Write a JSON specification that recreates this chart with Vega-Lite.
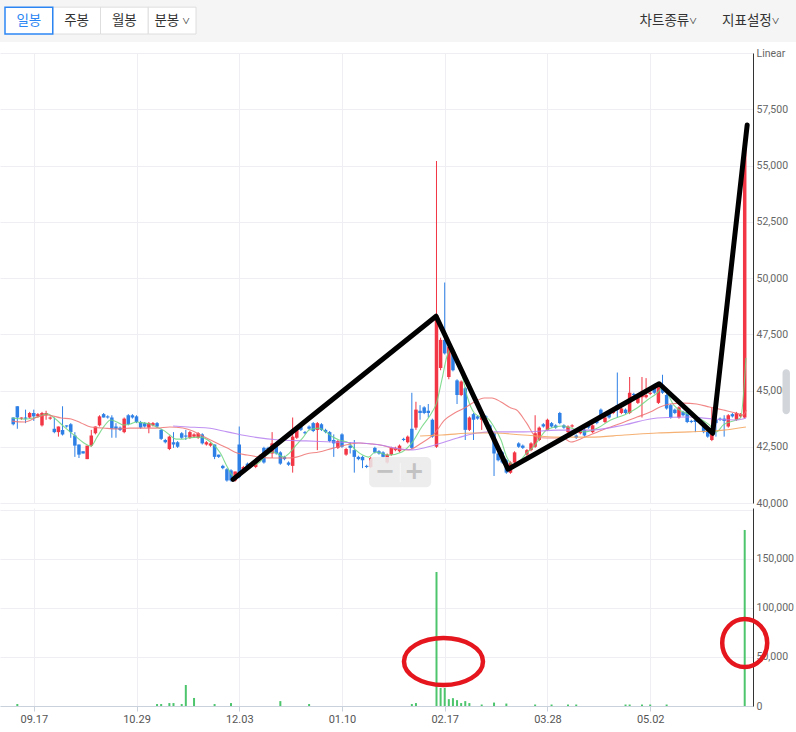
{
  "$schema": "https://vega.github.io/schema/vega-lite/v6.json",
  "padding": 0,
  "background": "white",
  "config": {
    "view": {"stroke": null},
    "font": "Roboto",
    "axis": {"labelFont": "Roboto", "labelFontSize": 11, "labelColor": "#666666", "gridColor": "#efeff3", "gridWidth": 1, "title": null}
  },
  "datasets": {
    "candles": [
      {"i":2,"o":43800,"h":43800,"l":43450,"c":43500},{"i":3,"o":44300,"h":44300,"l":43300,"c":43800},{"i":4,"o":43750,"h":43800,"l":43700,"c":43800},{"i":5,"o":43800,"h":44150,"l":43550,"c":43750},{"i":6,"o":43800,"h":44050,"l":43750,"c":44000},{"i":7,"o":44000,"h":44150,"l":43650,"c":43850},{"i":8,"o":43850,"h":44000,"l":43800,"c":43950},{"i":9,"o":43450,"h":44050,"l":43400,"c":44000},{"i":10,"o":43900,"h":44100,"l":43700,"c":44000},{"i":11,"o":43750,"h":43850,"l":43700,"c":43800},
      {"i":12,"o":43300,"h":43800,"l":43100,"c":43150},{"i":13,"o":43150,"h":43400,"l":42950,"c":43400},{"i":14,"o":43250,"h":44300,"l":43000,"c":43050},{"i":15,"o":43450,"h":43450,"l":43350,"c":43400},{"i":16,"o":43500,"h":43550,"l":42900,"c":43150},{"i":17,"o":43000,"h":43150,"l":42050,"c":42550},{"i":18,"o":42600,"h":42600,"l":42000,"c":42150},{"i":19,"o":42300,"h":42300,"l":42200,"c":42200},{"i":20,"o":41950,"h":42550,"l":41950,"c":42550},{"i":21,"o":42550,"h":43250,"l":42500,"c":43000},
      {"i":22,"o":43100,"h":43400,"l":43050,"c":43400},{"i":23,"o":43450,"h":43900,"l":43400,"c":43850},{"i":24,"o":43950,"h":44000,"l":43800,"c":43800},{"i":25,"o":43850,"h":43900,"l":43750,"c":43800},{"i":26,"o":43800,"h":43900,"l":42900,"c":43300},{"i":27,"o":43400,"h":43550,"l":42900,"c":43300},{"i":28,"o":43350,"h":43400,"l":43200,"c":43250},{"i":29,"o":43150,"h":43800,"l":43100,"c":43750},{"i":30,"o":43900,"h":43950,"l":43450,"c":43500},{"i":31,"o":43900,"h":43950,"l":43750,"c":43800},
      {"i":32,"o":43850,"h":43900,"l":43550,"c":43600},{"i":33,"o":43600,"h":43650,"l":43300,"c":43350},{"i":34,"o":43550,"h":43600,"l":43350,"c":43400},{"i":35,"o":43350,"h":43600,"l":43100,"c":43550},{"i":36,"o":43450,"h":43600,"l":43400,"c":43550},{"i":37,"o":43550,"h":43600,"l":43350,"c":43400},{"i":38,"o":43250,"h":43300,"l":42800,"c":42850},{"i":39,"o":42800,"h":42850,"l":42650,"c":42700},{"i":40,"o":42400,"h":43000,"l":42350,"c":42950},{"i":41,"o":42700,"h":43150,"l":42450,"c":42600},
      {"i":42,"o":42700,"h":42750,"l":42450,"c":42500},{"i":43,"o":43100,"h":43150,"l":42850,"c":42900},{"i":44,"o":43000,"h":43250,"l":42800,"c":42950},{"i":45,"o":42900,"h":43200,"l":42850,"c":43150},{"i":46,"o":42950,"h":43100,"l":42900,"c":43050},{"i":47,"o":42900,"h":43150,"l":42850,"c":43100},{"i":48,"o":43050,"h":43100,"l":42600,"c":42650},{"i":49,"o":42600,"h":42750,"l":42550,"c":42700},{"i":50,"o":42550,"h":42700,"l":42500,"c":42650},{"i":51,"o":42600,"h":42600,"l":41950,"c":42050},
      {"i":52,"o":42150,"h":42150,"l":42000,"c":42050},{"i":53,"o":41650,"h":41700,"l":41500,"c":41550},{"i":54,"o":41500,"h":41550,"l":40950,"c":41000},{"i":55,"o":41450,"h":41500,"l":40950,"c":41000},{"i":56,"o":41000,"h":41400,"l":40950,"c":41400},{"i":57,"o":42600,"h":43400,"l":41100,"c":41150},{"i":58,"o":41450,"h":41650,"l":41400,"c":41600},{"i":59,"o":41750,"h":41800,"l":41500,"c":41550},{"i":60,"o":41700,"h":41750,"l":41600,"c":41650},{"i":61,"o":41600,"h":41950,"l":41550,"c":41900},
      {"i":62,"o":42000,"h":42150,"l":41950,"c":42100},{"i":63,"o":42450,"h":42500,"l":41750,"c":41800},{"i":64,"o":42450,"h":42500,"l":42350,"c":42400},{"i":65,"o":42200,"h":43150,"l":42000,"c":42650},{"i":66,"o":42600,"h":42650,"l":42150,"c":42200},{"i":67,"o":42250,"h":42300,"l":41700,"c":41750},{"i":68,"o":42050,"h":42100,"l":41900,"c":41950},{"i":69,"o":41800,"h":41850,"l":41650,"c":41700},{"i":70,"o":41650,"h":43800,"l":41350,"c":42950},{"i":71,"o":42900,"h":43400,"l":42850,"c":43350},
      {"i":72,"o":43400,"h":43450,"l":43200,"c":43250},{"i":73,"o":43150,"h":43200,"l":43050,"c":43100},{"i":74,"o":43400,"h":43450,"l":43250,"c":43300},{"i":75,"o":43550,"h":43600,"l":43150,"c":43200},{"i":76,"o":43250,"h":43600,"l":42350,"c":43550},{"i":77,"o":43500,"h":43550,"l":43200,"c":43250},{"i":78,"o":43250,"h":43300,"l":43100,"c":43150},{"i":79,"o":43150,"h":43200,"l":42700,"c":42750},{"i":80,"o":42800,"h":43050,"l":42050,"c":42650},{"i":81,"o":42450,"h":42800,"l":42400,"c":42750},
      {"i":82,"o":43050,"h":43100,"l":42450,"c":42500},{"i":83,"o":42150,"h":42450,"l":42100,"c":42400},{"i":84,"o":42550,"h":42700,"l":42200,"c":42450},{"i":85,"o":42350,"h":42800,"l":41350,"c":42050},{"i":86,"o":42050,"h":42100,"l":41900,"c":41950},{"i":87,"o":42050,"h":42100,"l":41550,"c":41900},{"i":88,"o":41650,"h":41700,"l":41550,"c":41600},{"i":89,"o":41600,"h":42050,"l":41550,"c":42000},{"i":90,"o":42450,"h":42500,"l":42200,"c":42250},{"i":91,"o":42300,"h":42350,"l":42150,"c":42200},
      {"i":92,"o":42250,"h":42300,"l":42000,"c":42050},{"i":93,"o":41800,"h":42200,"l":41750,"c":42150},{"i":94,"o":42150,"h":42500,"l":42100,"c":42450},{"i":95,"o":42350,"h":42500,"l":42300,"c":42450},{"i":96,"o":42300,"h":42600,"l":42250,"c":42550},{"i":97,"o":42850,"h":42900,"l":42750,"c":42800},{"i":98,"o":42700,"h":43000,"l":42650,"c":42950},{"i":99,"o":43300,"h":44900,"l":42400,"c":42450},{"i":100,"o":43350,"h":44500,"l":43250,"c":44150},{"i":101,"o":44100,"h":44350,"l":43700,"c":44000},
      {"i":102,"o":44250,"h":44300,"l":43950,"c":44000},{"i":103,"o":44100,"h":44400,"l":43800,"c":44000},{"i":104,"o":43700,"h":43750,"l":42900,"c":42950},{"i":105,"o":42500,"h":55200,"l":42450,"c":48350},{"i":106,"o":46000,"h":47350,"l":45900,"c":47250},{"i":107,"o":47250,"h":49800,"l":46600,"c":46650},{"i":108,"o":45600,"h":47050,"l":45500,"c":46950},{"i":109,"o":46600,"h":46700,"l":45850,"c":45900},{"i":110,"o":45450,"h":45500,"l":44400,"c":44800},{"i":111,"o":44800,"h":45450,"l":44750,"c":45400},
      {"i":112,"o":45100,"h":45150,"l":42800,"c":43250},{"i":113,"o":43250,"h":43850,"l":43200,"c":43800},{"i":114,"o":43950,"h":44000,"l":42800,"c":43700},{"i":115,"o":43850,"h":43900,"l":43700,"c":43750},{"i":116,"o":43700,"h":44100,"l":43250,"c":44050},{"i":117,"o":43850,"h":43900,"l":43750,"c":43800},{"i":118,"o":43450,"h":43500,"l":43200,"c":43250},{"i":119,"o":43100,"h":43150,"l":41200,"c":42200},{"i":120,"o":42200,"h":42250,"l":41850,"c":41900},{"i":121,"o":42250,"h":42300,"l":41750,"c":41800},
      {"i":122,"o":41900,"h":41950,"l":41300,"c":41350},{"i":123,"o":41350,"h":41850,"l":41300,"c":41800},{"i":124,"o":41800,"h":42300,"l":41750,"c":42250},{"i":125,"o":42650,"h":42700,"l":42450,"c":42500},{"i":126,"o":42550,"h":42600,"l":42400,"c":42450},{"i":127,"o":42150,"h":42400,"l":42100,"c":42350},{"i":128,"o":42350,"h":42700,"l":42300,"c":42650},{"i":129,"o":42500,"h":43900,"l":42450,"c":43100},{"i":130,"o":42800,"h":43400,"l":42750,"c":43350},{"i":131,"o":43500,"h":43550,"l":43350,"c":43400},
      {"i":132,"o":43250,"h":43750,"l":43200,"c":43700},{"i":133,"o":43550,"h":43600,"l":43350,"c":43400},{"i":134,"o":43450,"h":43500,"l":43300,"c":43350},{"i":135,"o":44000,"h":44050,"l":43500,"c":43550},{"i":136,"o":43450,"h":43500,"l":43300,"c":43350},{"i":137,"o":43150,"h":43450,"l":43100,"c":43400},{"i":138,"o":43400,"h":43500,"l":43350,"c":43450},{"i":139,"o":43000,"h":43050,"l":42850,"c":42900},{"i":140,"o":43100,"h":43300,"l":43050,"c":43250},{"i":141,"o":43250,"h":43300,"l":42950,"c":43000},
      {"i":142,"o":43450,"h":43500,"l":43300,"c":43350},{"i":143,"o":43150,"h":43500,"l":43100,"c":43450},{"i":144,"o":43700,"h":43750,"l":43500,"c":43550},{"i":145,"o":44150,"h":44200,"l":43850,"c":43900},{"i":146,"o":43600,"h":43850,"l":43550,"c":43800},{"i":147,"o":44000,"h":44050,"l":43750,"c":43800},{"i":148,"o":44000,"h":44100,"l":43950,"c":44050},{"i":149,"o":44350,"h":45800,"l":43800,"c":44150},{"i":150,"o":44000,"h":44250,"l":43950,"c":44200},{"i":151,"o":44150,"h":44200,"l":43950,"c":44000},
      {"i":152,"o":44000,"h":45600,"l":43950,"c":44900},{"i":153,"o":44850,"h":44900,"l":44750,"c":44800},{"i":154,"o":44450,"h":44750,"l":44400,"c":44700},{"i":155,"o":44700,"h":45600,"l":43800,"c":44950},{"i":156,"o":44700,"h":45550,"l":44650,"c":44800},{"i":157,"o":44850,"h":44950,"l":44800,"c":44900},{"i":158,"o":45250,"h":45300,"l":44850,"c":44900},{"i":159,"o":44450,"h":45200,"l":44400,"c":45150},{"i":160,"o":45250,"h":45700,"l":44850,"c":44900},{"i":161,"o":44800,"h":44850,"l":44150,"c":44200},
      {"i":162,"o":44350,"h":44400,"l":43750,"c":43800},{"i":163,"o":44150,"h":44200,"l":43950,"c":44000},{"i":164,"o":43800,"h":44300,"l":43750,"c":44250},{"i":165,"o":44050,"h":44100,"l":43850,"c":43900},{"i":166,"o":44050,"h":44100,"l":43550,"c":43600},{"i":167,"o":43650,"h":43700,"l":43550,"c":43600},{"i":168,"o":43700,"h":43800,"l":43150,"c":43600},{"i":169,"o":43750,"h":43800,"l":43650,"c":43700},{"i":170,"o":43550,"h":43600,"l":43100,"c":43150},{"i":171,"o":43350,"h":43400,"l":42900,"c":42950},
      {"i":172,"o":42800,"h":44250,"l":42750,"c":43150},{"i":173,"o":43700,"h":44150,"l":42950,"c":43550},{"i":174,"o":43750,"h":43800,"l":43650,"c":43700},{"i":175,"o":43750,"h":43900,"l":42950,"c":43650},{"i":176,"o":43400,"h":43950,"l":43350,"c":43900},{"i":177,"o":43950,"h":44000,"l":43800,"c":43850},{"i":178,"o":43700,"h":44050,"l":43650,"c":44000},{"i":179,"o":43850,"h":44000,"l":43800,"c":43950},{"i":180,"o":43800,"h":56000,"l":43750,"c":55950}
    ],
    "volume": [
      {"i":3,"v":2000},{"i":37,"v":2000},{"i":38,"v":2000},{"i":40,"v":3000},{"i":41,"v":3000},{"i":43,"v":2000},{"i":44,"v":21400},{"i":46,"v":8200},{"i":51,"v":2000},{"i":55,"v":3000},{"i":67,"v":5000},{"i":74,"v":2000},{"i":99,"v":2000},{"i":100,"v":3000},{"i":105,"v":136700},{"i":106,"v":18400},{"i":107,"v":18400},{"i":108,"v":7000},{"i":109,"v":8000},{"i":110,"v":6000},{"i":111,"v":3000},{"i":112,"v":5000},{"i":113,"v":3000},{"i":116,"v":1500},{"i":119,"v":3500},{"i":122,"v":2500},{"i":129,"v":1500},{"i":133,"v":1500},{"i":137,"v":1500},{"i":139,"v":1500},{"i":151,"v":1500},{"i":152,"v":1500},{"i":155,"v":1500},{"i":157,"v":1500},{"i":161,"v":1500},{"i":180,"v":179600}
    ],
    "ma": [
      {"s":"ma5","i":1.7,"p":43780},{"s":"ma5","i":4.8,"p":43730},{"s":"ma5","i":7.9,"p":43820},{"s":"ma5","i":10.3,"p":43960},{"s":"ma5","i":12.0,"p":43780},{"s":"ma5","i":14.4,"p":43380},{"s":"ma5","i":16.8,"p":43020},{"s":"ma5","i":19.2,"p":42670},{"s":"ma5","i":20.9,"p":42530},{"s":"ma5","i":22.4,"p":42930},{"s":"ma5","i":24.0,"p":43380},{"s":"ma5","i":25.7,"p":43690},{"s":"ma5","i":27.2,"p":43600},{"s":"ma5","i":28.8,"p":43470},{"s":"ma5","i":30.5,"p":43510},{"s":"ma5","i":32.0,"p":43600},{"s":"ma5","i":33.7,"p":43560},{"s":"ma5","i":35.3,"p":43510},{"s":"ma5","i":36.8,"p":43380},{"s":"ma5","i":38.5,"p":43240},{"s":"ma5","i":40.1,"p":43020},{"s":"ma5","i":41.6,"p":42840},{"s":"ma5","i":43.3,"p":42840},{"s":"ma5","i":44.5,"p":42890},{"s":"ma5","i":47.6,"p":42930},{"s":"ma5","i":50.0,"p":42710},{"s":"ma5","i":52.4,"p":42220},{"s":"ma5","i":54.1,"p":41600},{"s":"ma5","i":55.8,"p":41160},{"s":"ma5","i":57.2,"p":41330},{"s":"ma5","i":59.6,"p":41600},{"s":"ma5","i":62.0,"p":41820},{"s":"ma5","i":63.7,"p":42130},{"s":"ma5","i":65.4,"p":42270},{"s":"ma5","i":67.8,"p":42040},{"s":"ma5","i":69.2,"p":42220},{"s":"ma5","i":70.9,"p":42580},{"s":"ma5","i":72.6,"p":42930},{"s":"ma5","i":74.0,"p":43240},{"s":"ma5","i":76.4,"p":43330},{"s":"ma5","i":78.1,"p":43160},{"s":"ma5","i":79.8,"p":42930},{"s":"ma5","i":81.3,"p":42800},{"s":"ma5","i":83.7,"p":42670},{"s":"ma5","i":85.3,"p":42360},{"s":"ma5","i":87.0,"p":42130},{"s":"ma5","i":88.5,"p":42040},{"s":"ma5","i":90.1,"p":42270},{"s":"ma5","i":93.3,"p":42130},{"s":"ma5","i":96.6,"p":42270},{"s":"ma5","i":99.0,"p":42670},{"s":"ma5","i":101.4,"p":43380},{"s":"ma5","i":103.8,"p":44000},{"s":"ma5","i":105.0,"p":44440},{"s":"ma5","i":106.3,"p":45470},{"s":"ma5","i":107.5,"p":46490},{"s":"ma5","i":108.7,"p":46930},{"s":"ma5","i":109.9,"p":46490},{"s":"ma5","i":111.1,"p":45780},{"s":"ma5","i":112.5,"p":44710},{"s":"ma5","i":114.2,"p":44000},{"s":"ma5","i":115.9,"p":43820},{"s":"ma5","i":117.3,"p":43780},{"s":"ma5","i":119.0,"p":43380},{"s":"ma5","i":120.7,"p":42800},{"s":"ma5","i":122.1,"p":42040},{"s":"ma5","i":123.8,"p":41690},{"s":"ma5","i":125.5,"p":41910},{"s":"ma5","i":126.9,"p":42220},{"s":"ma5","i":128.6,"p":42490},{"s":"ma5","i":130.3,"p":42930},{"s":"ma5","i":131.7,"p":43240},{"s":"ma5","i":133.9,"p":43380},{"s":"ma5","i":135.8,"p":43420},{"s":"ma5","i":137.7,"p":43330},{"s":"ma5","i":141.1,"p":43160},{"s":"ma5","i":144.2,"p":43330},{"s":"ma5","i":147.4,"p":43690},{"s":"ma5","i":150.7,"p":43910},{"s":"ma5","i":153.8,"p":44220},{"s":"ma5","i":156.3,"p":44580},{"s":"ma5","i":158.7,"p":44890},{"s":"ma5","i":159.9,"p":45110},{"s":"ma5","i":161.1,"p":44890},{"s":"ma5","i":162.7,"p":44360},{"s":"ma5","i":165.1,"p":44040},{"s":"ma5","i":168.3,"p":43820},{"s":"ma5","i":171.4,"p":43470},{"s":"ma5","i":173.1,"p":43160},{"s":"ma5","i":174.8,"p":43470},{"s":"ma5","i":177.9,"p":43690},{"s":"ma5","i":179.0,"p":43780},{"s":"ma5","i":180.3,"p":46450},
      {"s":"ma20","i":1.7,"p":43640},{"s":"ma20","i":4.8,"p":43600},{"s":"ma20","i":7.9,"p":43820},{"s":"ma20","i":10.3,"p":43910},{"s":"ma20","i":13.7,"p":43780},{"s":"ma20","i":16.1,"p":43730},{"s":"ma20","i":18.5,"p":43560},{"s":"ma20","i":20.9,"p":43380},{"s":"ma20","i":24.0,"p":43330},{"s":"ma20","i":27.2,"p":43290},{"s":"ma20","i":30.5,"p":43330},{"s":"ma20","i":33.7,"p":43330},{"s":"ma20","i":36.8,"p":43330},{"s":"ma20","i":40.1,"p":43380},{"s":"ma20","i":43.3,"p":43330},{"s":"ma20","i":45.7,"p":43200},{"s":"ma20","i":47.6,"p":43020},{"s":"ma20","i":51.0,"p":42710},{"s":"ma20","i":54.1,"p":42440},{"s":"ma20","i":56.5,"p":42220},{"s":"ma20","i":58.9,"p":42130},{"s":"ma20","i":62.0,"p":42040},{"s":"ma20","i":65.4,"p":42000},{"s":"ma20","i":68.5,"p":42000},{"s":"ma20","i":70.9,"p":42040},{"s":"ma20","i":73.3,"p":42180},{"s":"ma20","i":76.4,"p":42270},{"s":"ma20","i":79.8,"p":42440},{"s":"ma20","i":82.9,"p":42580},{"s":"ma20","i":86.1,"p":42670},{"s":"ma20","i":89.4,"p":42620},{"s":"ma20","i":91.3,"p":42580},{"s":"ma20","i":94.2,"p":42440},{"s":"ma20","i":98.1,"p":42360},{"s":"ma20","i":101.4,"p":42670},{"s":"ma20","i":104.6,"p":43110},{"s":"ma20","i":107.0,"p":43690},{"s":"ma20","i":109.4,"p":44000},{"s":"ma20","i":111.8,"p":44220},{"s":"ma20","i":114.2,"p":44490},{"s":"ma20","i":116.6,"p":44670},{"s":"ma20","i":118.5,"p":44670},{"s":"ma20","i":120.7,"p":44490},{"s":"ma20","i":123.1,"p":44220},{"s":"ma20","i":124.5,"p":44130},{"s":"ma20","i":126.9,"p":43560},{"s":"ma20","i":129.3,"p":42930},{"s":"ma20","i":131.7,"p":42890},{"s":"ma20","i":135.8,"p":42890},{"s":"ma20","i":137.7,"p":42710},{"s":"ma20","i":141.1,"p":42930},{"s":"ma20","i":144.2,"p":43160},{"s":"ma20","i":147.4,"p":43380},{"s":"ma20","i":150.7,"p":43600},{"s":"ma20","i":153.8,"p":43820},{"s":"ma20","i":157.0,"p":44040},{"s":"ma20","i":159.4,"p":44270},{"s":"ma20","i":161.8,"p":44400},{"s":"ma20","i":165.1,"p":44440},{"s":"ma20","i":168.3,"p":44400},{"s":"ma20","i":171.4,"p":44270},{"s":"ma20","i":174.8,"p":44130},{"s":"ma20","i":177.9,"p":44000},{"s":"ma20","i":179.6,"p":43910},{"s":"ma20","i":180.4,"p":44130},
      {"s":"ma60","i":40.9,"p":43420},{"s":"ma60","i":44.5,"p":43380},{"s":"ma60","i":49.3,"p":43330},{"s":"ma60","i":54.1,"p":43160},{"s":"ma60","i":60.6,"p":42930},{"s":"ma60","i":66.8,"p":42800},{"s":"ma60","i":73.3,"p":42760},{"s":"ma60","i":79.8,"p":42710},{"s":"ma60","i":86.1,"p":42670},{"s":"ma60","i":91.3,"p":42580},{"s":"ma60","i":95.0,"p":42440},{"s":"ma60","i":99.0,"p":42360},{"s":"ma60","i":104.6,"p":42580},{"s":"ma60","i":110.1,"p":42890},{"s":"ma60","i":114.9,"p":43110},{"s":"ma60","i":119.0,"p":43160},{"s":"ma60","i":126.2,"p":43160},{"s":"ma60","i":134.6,"p":43240},{"s":"ma60","i":142.5,"p":43240},{"s":"ma60","i":150.7,"p":43470},{"s":"ma60","i":158.7,"p":43780},{"s":"ma60","i":166.6,"p":43820},{"s":"ma60","i":172.4,"p":43730},{"s":"ma60","i":177.9,"p":43690},{"s":"ma60","i":180.3,"p":43780},
      {"s":"ma120","i":101.0,"p":42980},{"s":"ma120","i":106.3,"p":43020},{"s":"ma120","i":114.2,"p":43110},{"s":"ma120","i":119.0,"p":43110},{"s":"ma120","i":126.2,"p":43020},{"s":"ma120","i":134.6,"p":42930},{"s":"ma120","i":142.5,"p":42930},{"s":"ma120","i":150.7,"p":43020},{"s":"ma120","i":158.7,"p":43110},{"s":"ma120","i":166.6,"p":43160},{"s":"ma120","i":174.8,"p":43240},{"s":"ma120","i":180.3,"p":43380}
    ],
    "zig": [
      {"i":55.5,"p":41050},{"i":104.9,"p":48300},{"i":122.4,"p":41500},{"i":159.2,"p":45300},{"i":172.2,"p":43100},{"i":180.6,"p":56800}
    ]
  },
  "vconcat": [
    {
      "width": 796,
      "height": 42,
      "view": {"fill": "#f5f5f5", "stroke": null},
      "resolve": {"scale": {"x": "independent"}},
      "layer": [
        {
          "data": {"values": [{"b": "주봉"}, {"b": "월봉"}, {"b": "분봉 ˅"}, {"b": "일봉"}]},
          "mark": {"type": "rect", "fill": "white"},
          "encoding": {
            "x": {"field": "b", "type": "nominal", "scale": {"domain": ["일봉", "주봉", "월봉", "분봉 ˅"], "range": [5, 196], "paddingInner": 0, "paddingOuter": 0}, "axis": null},
            "y": {"datum": 0.17, "type": "quantitative", "scale": {"domain": [0, 1], "reverse": true}, "axis": null},
            "y2": {"datum": 0.81},
            "stroke": {"condition": {"test": "datum.b == '일봉'", "value": "#2b86f3"}, "value": "#dedede"},
            "strokeWidth": {"condition": {"test": "datum.b == '일봉'", "value": 1.5}, "value": 1}
          }
        },
        {
          "data": {"values": [{"b": "일봉"}, {"b": "주봉"}, {"b": "월봉"}, {"b": "분봉 ˅"}]},
          "mark": {"type": "text", "font": "Noto Sans CJK KR", "fontSize": 13.5, "baseline": "middle"},
          "encoding": {
            "x": {"field": "b", "type": "nominal", "scale": {"domain": ["일봉", "주봉", "월봉", "분봉 ˅"], "range": [5, 196], "paddingInner": 0, "paddingOuter": 0}, "axis": null},
            "y": {"datum": 0.49, "type": "quantitative"},
            "text": {"field": "b"},
            "color": {"condition": {"test": "datum.b == '일봉'", "value": "#2b86f3"}, "value": "#333333"}
          }
        },
        {
          "data": {"values": [{"m": "차트종류˅"}, {"m": "지표설정˅"}]},
          "mark": {"type": "text", "font": "Noto Sans CJK KR", "fontSize": 13.5, "baseline": "middle", "color": "#333333"},
          "encoding": {
            "x": {"field": "m", "type": "nominal", "scale": {"domain": ["차트종류˅", "지표설정˅"], "range": [627, 792], "paddingInner": 0, "paddingOuter": 0}, "axis": null},
            "y": {"datum": 0.49, "type": "quantitative"},
            "text": {"field": "m"}
          }
        }
      ]
    },
    {
      "spacing": 5,
      "bounds": "flush",
      "vconcat": [
        {
          "width": 753,
          "height": 450,
          "layer": [
            {
              "data": {"name": "candles"},
              "mark": {"type": "rule", "strokeWidth": 1},
              "encoding": {
                "x": {"field": "i", "type": "quantitative", "scale": {"domain": [0, 180.8], "nice": false, "zero": false},
                  "axis": {"values": [7, 32, 57, 82, 107, 132, 157], "labels": false, "ticks": false, "domain": false, "grid": true}},
                "y": {"field": "l", "type": "quantitative", "scale": {"domain": [40000, 60000], "nice": false, "zero": false},
                  "axis": {"orient": "right", "values": [40000, 42500, 45000, 47500, 50000, 52500, 55000, 57500, 60000], "format": ",d", "labelExpr": "datum.value == 60000 ? 'Linear' : datum.label", "ticks": false, "domainColor": "#333333", "labelPadding": 3, "labelFontSize": 10.5, "grid": true}},
                "y2": {"field": "h"},
                "color": {"condition": {"test": "datum.c >= datum.o", "value": "#f23645"}, "value": "#2f80e6"}
              }
            },
            {
              "data": {"name": "candles"},
              "mark": {"type": "bar"},
              "encoding": {
                "x": {"field": "i", "type": "quantitative"},
                "y": {"field": "o", "type": "quantitative"},
                "y2": {"field": "c"},
                "size": {"value": 3.5},
                "color": {"condition": {"test": "datum.c >= datum.o", "value": "#f23645"}, "value": "#2f80e6"}
              }
            },
            {
              "data": {"name": "ma"},
              "mark": {"type": "line", "strokeWidth": 1.1, "interpolate": "monotone", "opacity": 0.85},
              "encoding": {
                "x": {"field": "i", "type": "quantitative"},
                "y": {"field": "p", "type": "quantitative"},
                "color": {"field": "s", "type": "nominal", "scale": {"domain": ["ma5", "ma20", "ma60", "ma120"], "range": ["#6fd67f", "#ef7272", "#b57ff0", "#f3a35c"]}, "legend": null}
              }
            },
            {
              "data": {"name": "zig"},
              "mark": {"type": "line", "strokeWidth": 5, "color": "#000000", "strokeCap": "round", "strokeJoin": "round"},
              "encoding": {
                "x": {"field": "i", "type": "quantitative"},
                "y": {"field": "p", "type": "quantitative"}
              }
            },
            {
              "data": {"values": [{}]},
              "mark": {"type": "rect", "fill": "#ebebeb", "opacity": 0.88, "cornerRadius": 5},
              "encoding": {
                "x": {"datum": 88.6, "type": "quantitative"},
                "x2": {"datum": 103.7},
                "y": {"datum": 42050, "type": "quantitative"},
                "y2": {"datum": 40700}
              }
            },
            {
              "data": {"values": [{}]},
              "mark": {"type": "rule", "stroke": "#f7f7f7", "strokeWidth": 1},
              "encoding": {
                "x": {"datum": 96.2, "type": "quantitative"},
                "y": {"datum": 41780, "type": "quantitative"},
                "y2": {"datum": 40930}
              }
            },
            {
              "data": {"values": [{}]},
              "mark": {"type": "text", "text": "−", "fontSize": 24, "fontWeight": "bold", "color": "#c2c2c2", "baseline": "middle", "font": "DejaVu Sans"},
              "encoding": {
                "x": {"datum": 92.4, "type": "quantitative"},
                "y": {"datum": 41380, "type": "quantitative"}
              }
            },
            {
              "data": {"values": [{}]},
              "mark": {"type": "text", "text": "+", "fontSize": 24, "fontWeight": "bold", "color": "#c2c2c2", "baseline": "middle", "font": "DejaVu Sans"},
              "encoding": {
                "x": {"datum": 99.6, "type": "quantitative"},
                "y": {"datum": 41380, "type": "quantitative"}
              }
            },
            {
              "data": {"values": [{}]},
              "mark": {"type": "rect", "fill": "#d2d5da", "cornerRadius": 4},
              "encoding": {
                "x": {"datum": 189.2, "type": "quantitative"},
                "x2": {"datum": 191.0},
                "y": {"datum": 45950, "type": "quantitative"},
                "y2": {"datum": 43950}
              }
            }
          ]
        },
        {
          "width": 753,
          "height": 198,
          "layer": [
            {
              "data": {"name": "volume"},
              "mark": {"type": "bar", "color": "#4cc56d"},
              "encoding": {
                "x": {"field": "i", "type": "quantitative", "scale": {"domain": [0, 180.8], "nice": false, "zero": false},
                  "axis": {"values": [7, 32, 57, 82, 107, 132, 157], "labelExpr": "datum.value == 7 ? '09.17' : datum.value == 32 ? '10.29' : datum.value == 57 ? '12.03' : datum.value == 82 ? '01.10' : datum.value == 107 ? '02.17' : datum.value == 132 ? '03.28' : '05.02'", "grid": true, "domainColor": "#c9d1dd", "tickColor": "#c9d1dd", "tickSize": 5, "labelPadding": 2, "labelFlush": false, "labelColor": "#555555"}},
                "y": {"field": "v", "type": "quantitative", "scale": {"domain": [0, 202000], "nice": false},
                  "axis": {"orient": "right", "values": [0, 50000, 100000, 150000, 200000], "format": ",d", "labelExpr": "datum.value == 200000 ? '' : datum.label", "ticks": false, "domainColor": "#333333", "labelPadding": 3, "labelFontSize": 10.5, "grid": true}},
                "size": {"value": 2}
              }
            },
            {
              "data": {"values": [{"i": 106.7, "v": 45400}]},
              "mark": {"type": "point", "shape": "M -1 0 A 1 0.595 0 1 1 1 0 A 1 0.595 0 1 1 -1 0 Z", "size": 6241, "filled": false, "stroke": "#e5161d", "strokeWidth": 4.5, "opacity": 1},
              "encoding": {
                "x": {"field": "i", "type": "quantitative"},
                "y": {"field": "v", "type": "quantitative"}
              }
            },
            {
              "data": {"values": [{"i": 180.0, "v": 64300}]},
              "mark": {"type": "point", "shape": "M -0.9375 0 A 0.9375 1 0 1 1 0.9375 0 A 0.9375 1 0 1 1 -0.9375 0 Z", "size": 2304, "filled": false, "stroke": "#e5161d", "strokeWidth": 4.5, "opacity": 1},
              "encoding": {
                "x": {"field": "i", "type": "quantitative"},
                "y": {"field": "v", "type": "quantitative"}
              }
            }
          ]
        }
      ]
    }
  ],
  "spacing": 11,
  "bounds": "flush"
}
